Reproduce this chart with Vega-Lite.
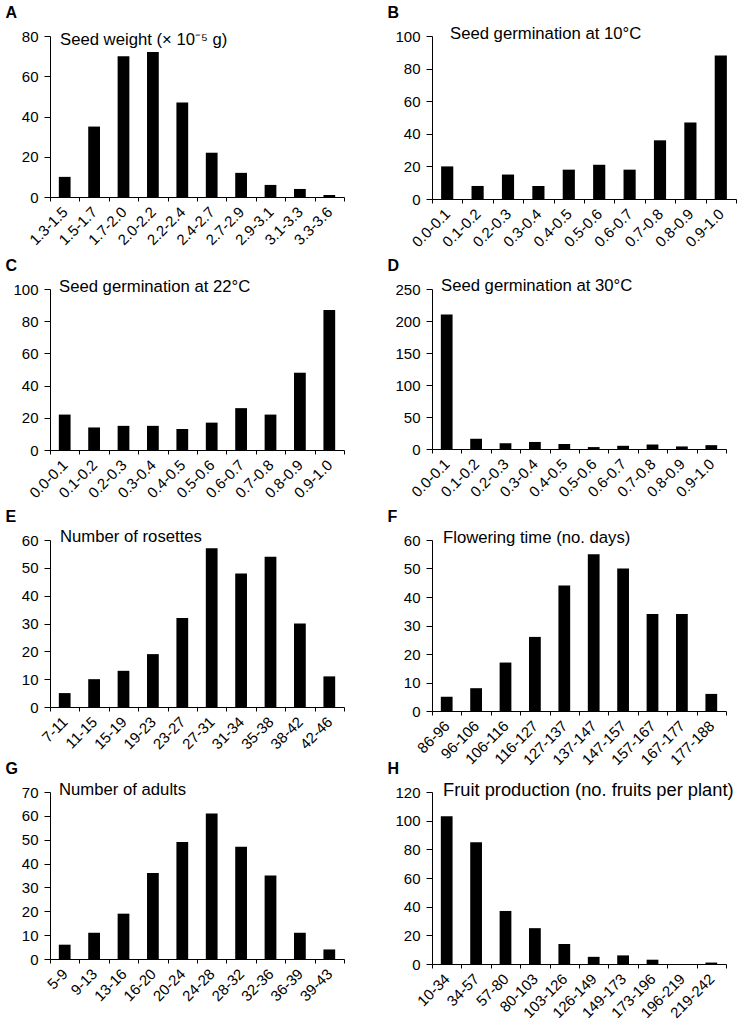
{
  "$schema": "https://vega.github.io/schema/vega-lite/v6.json",
  "padding": {"left": 5, "top": 4, "right": 0, "bottom": 0},
  "datasets": {
    "A": [
      {"bin": "1.3-1.5", "count": 10}, {"bin": "1.5-1.7", "count": 35}, {"bin": "1.7-2.0", "count": 70},
      {"bin": "2.0-2.2", "count": 72}, {"bin": "2.2-2.4", "count": 47}, {"bin": "2.4-2.7", "count": 22},
      {"bin": "2.7-2.9", "count": 12}, {"bin": "2.9-3.1", "count": 6}, {"bin": "3.1-3.3", "count": 4},
      {"bin": "3.3-3.6", "count": 1}
    ],
    "B": [
      {"bin": "0.0-0.1", "count": 20}, {"bin": "0.1-0.2", "count": 8}, {"bin": "0.2-0.3", "count": 15},
      {"bin": "0.3-0.4", "count": 8}, {"bin": "0.4-0.5", "count": 18}, {"bin": "0.5-0.6", "count": 21},
      {"bin": "0.6-0.7", "count": 18}, {"bin": "0.7-0.8", "count": 36}, {"bin": "0.8-0.9", "count": 47},
      {"bin": "0.9-1.0", "count": 88}
    ],
    "C": [
      {"bin": "0.0-0.1", "count": 22}, {"bin": "0.1-0.2", "count": 14}, {"bin": "0.2-0.3", "count": 15},
      {"bin": "0.3-0.4", "count": 15}, {"bin": "0.4-0.5", "count": 13}, {"bin": "0.5-0.6", "count": 17},
      {"bin": "0.6-0.7", "count": 26}, {"bin": "0.7-0.8", "count": 22}, {"bin": "0.8-0.9", "count": 48},
      {"bin": "0.9-1.0", "count": 87}
    ],
    "D": [
      {"bin": "0.0-0.1", "count": 210}, {"bin": "0.1-0.2", "count": 16}, {"bin": "0.2-0.3", "count": 9},
      {"bin": "0.3-0.4", "count": 11}, {"bin": "0.4-0.5", "count": 8}, {"bin": "0.5-0.6", "count": 3},
      {"bin": "0.6-0.7", "count": 5}, {"bin": "0.7-0.8", "count": 7}, {"bin": "0.8-0.9", "count": 4},
      {"bin": "0.9-1.0", "count": 6}
    ],
    "E": [
      {"bin": "7-11", "count": 5}, {"bin": "11-15", "count": 10}, {"bin": "15-19", "count": 13},
      {"bin": "19-23", "count": 19}, {"bin": "23-27", "count": 32}, {"bin": "27-31", "count": 57},
      {"bin": "31-34", "count": 48}, {"bin": "35-38", "count": 54}, {"bin": "38-42", "count": 30},
      {"bin": "42-46", "count": 11}
    ],
    "F": [
      {"bin": "86-96", "count": 5}, {"bin": "96-106", "count": 8}, {"bin": "106-116", "count": 17},
      {"bin": "116-127", "count": 26}, {"bin": "127-137", "count": 44}, {"bin": "137-147", "count": 55},
      {"bin": "147-157", "count": 50}, {"bin": "157-167", "count": 34}, {"bin": "167-177", "count": 34},
      {"bin": "177-188", "count": 6}
    ],
    "G": [
      {"bin": "5-9", "count": 6}, {"bin": "9-13", "count": 11}, {"bin": "13-16", "count": 19},
      {"bin": "16-20", "count": 36}, {"bin": "20-24", "count": 49}, {"bin": "24-28", "count": 61},
      {"bin": "28-32", "count": 47}, {"bin": "32-36", "count": 35}, {"bin": "36-39", "count": 11},
      {"bin": "39-43", "count": 4}
    ],
    "H": [
      {"bin": "10-34", "count": 103}, {"bin": "34-57", "count": 85}, {"bin": "57-80", "count": 37},
      {"bin": "80-103", "count": 25}, {"bin": "103-126", "count": 14}, {"bin": "126-149", "count": 5},
      {"bin": "149-173", "count": 6}, {"bin": "173-196", "count": 3}, {"bin": "196-219", "count": 0},
      {"bin": "219-242", "count": 1}
    ]
  },
  "vconcat": [
    {
      "vconcat": [
        {
          "hconcat": [
            {
              "data": {"name": "A"}, "width": 294, "height": 161,
              "title": {"text": "Seed weight (× 10⁻⁵ g)", "dx": 10, "offset": -45},
              "mark": {"type": "bar", "width": {"band": 0.4}},
              "encoding": {
                "x": {"field": "bin", "type": "nominal", "sort": null, "scale": {"paddingInner": 0, "paddingOuter": 0}, "axis": {"title": null}},
                "y": {"field": "count", "type": "quantitative", "scale": {"domain": [0, 80]}, "axis": {"values": [0, 20, 40, 60, 80], "title": "A"}}
              }
            },
            {
              "data": {"name": "B"}, "width": 304, "height": 163,
              "title": {"text": "Seed germination at 10°C", "dx": 18, "offset": -39},
              "mark": {"type": "bar", "width": {"band": 0.4}},
              "encoding": {
                "x": {"field": "bin", "type": "nominal", "sort": null, "scale": {"paddingInner": 0, "paddingOuter": 0}, "axis": {"title": null}},
                "y": {"field": "count", "type": "quantitative", "scale": {"domain": [0, 100]}, "axis": {"values": [0, 20, 40, 60, 80, 100], "title": "B"}}
              }
            }
          ],
          "spacing": 42
        },
        {
          "hconcat": [
            {
              "data": {"name": "C"}, "width": 294, "height": 161,
              "title": {"text": "Seed germination at 22°C", "dx": 9, "offset": -39},
              "mark": {"type": "bar", "width": {"band": 0.4}},
              "encoding": {
                "x": {"field": "bin", "type": "nominal", "sort": null, "scale": {"paddingInner": 0, "paddingOuter": 0}, "axis": {"title": null}},
                "y": {"field": "count", "type": "quantitative", "scale": {"domain": [0, 100]}, "axis": {"values": [0, 20, 40, 60, 80, 100], "title": "C"}}
              }
            },
            {
              "data": {"name": "D"}, "width": 294, "height": 160,
              "title": {"text": "Seed germination at 30°C", "dx": 9, "offset": -38},
              "mark": {"type": "bar", "width": {"band": 0.4}},
              "encoding": {
                "x": {"field": "bin", "type": "nominal", "sort": null, "scale": {"paddingInner": 0, "paddingOuter": 0}, "axis": {"title": null}},
                "y": {"field": "count", "type": "quantitative", "scale": {"domain": [0, 250]}, "axis": {"values": [0, 50, 100, 150, 200, 250], "title": "D"}}
              }
            }
          ],
          "spacing": 42
        }
      ],
      "spacing": 7
    },
    {
      "vconcat": [
        {
          "hconcat": [
            {
              "data": {"name": "E"}, "width": 294, "height": 167,
              "title": {"text": "Number of rosettes", "dx": 10, "offset": -38},
              "mark": {"type": "bar", "width": {"band": 0.4}},
              "encoding": {
                "x": {"field": "bin", "type": "nominal", "sort": null, "scale": {"paddingInner": 0, "paddingOuter": 0}, "axis": {"title": null}},
                "y": {"field": "count", "type": "quantitative", "scale": {"domain": [0, 60]}, "axis": {"values": [0, 10, 20, 30, 40, 50, 60], "title": "E"}}
              }
            },
            {
              "data": {"name": "F"}, "width": 294, "height": 171,
              "title": {"text": "Flowering time (no. days)", "dx": 11, "offset": -39},
              "mark": {"type": "bar", "width": {"band": 0.4}},
              "encoding": {
                "x": {"field": "bin", "type": "nominal", "sort": null, "scale": {"paddingInner": 0, "paddingOuter": 0}, "axis": {"title": null}},
                "y": {"field": "count", "type": "quantitative", "scale": {"domain": [0, 60]}, "axis": {"values": [0, 10, 20, 30, 40, 50, 60], "title": "F"}}
              }
            }
          ],
          "spacing": 42
        },
        {
          "hconcat": [
            {
              "data": {"name": "G"}, "width": 294, "height": 167,
              "title": {"text": "Number of adults", "dx": 9, "offset": -39},
              "mark": {"type": "bar", "width": {"band": 0.4}},
              "encoding": {
                "x": {"field": "bin", "type": "nominal", "sort": null, "scale": {"paddingInner": 0, "paddingOuter": 0}, "axis": {"title": null}},
                "y": {"field": "count", "type": "quantitative", "scale": {"domain": [0, 70]}, "axis": {"values": [0, 10, 20, 30, 40, 50, 60, 70], "title": "G"}}
              }
            },
            {
              "data": {"name": "H"}, "width": 294, "height": 172,
              "title": {"text": "Fruit production (no. fruits per plant)", "dx": 11, "offset": -40, "fontSize": 18.3},
              "mark": {"type": "bar", "width": {"band": 0.4}},
              "encoding": {
                "x": {"field": "bin", "type": "nominal", "sort": null, "scale": {"paddingInner": 0, "paddingOuter": 0}, "axis": {"title": null}},
                "y": {"field": "count", "type": "quantitative", "scale": {"domain": [0, 120]}, "axis": {"values": [0, 20, 40, 60, 80, 100, 120], "title": "H"}}
              }
            }
          ],
          "spacing": 42
        }
      ],
      "spacing": -8
    }
  ],
  "spacing": 7,
  "config": {
    "font": "Liberation Sans",
    "view": {"stroke": null},
    "bar": {"color": "#000000"},
    "axis": {
      "grid": false, "domainColor": "#000000", "tickColor": "#000000", "labelColor": "#000000",
      "labelFont": "Liberation Sans", "labelFontSize": 15, "titleColor": "#000000", "titleFont": "Liberation Sans"
    },
    "axisX": {"labelAngle": -45, "labelAlign": "right", "labelBaseline": "middle", "tickBand": "extent", "tickSize": 4, "labelPadding": 8},
    "axisY": {
      "tickSize": 6, "labelPadding": 6, "titleAngle": 0, "titleAlign": "left", "titleBaseline": "alphabetic",
      "titleX": -45, "titleY": -19, "titleFontSize": 16, "titleFontWeight": "bold", "titlePadding": 0
    },
    "title": {"anchor": "start", "frame": "group", "fontSize": 16.7, "fontWeight": "normal", "color": "#000000", "baseline": "alphabetic", "font": "Liberation Sans", "orient": "top"}
  }
}
